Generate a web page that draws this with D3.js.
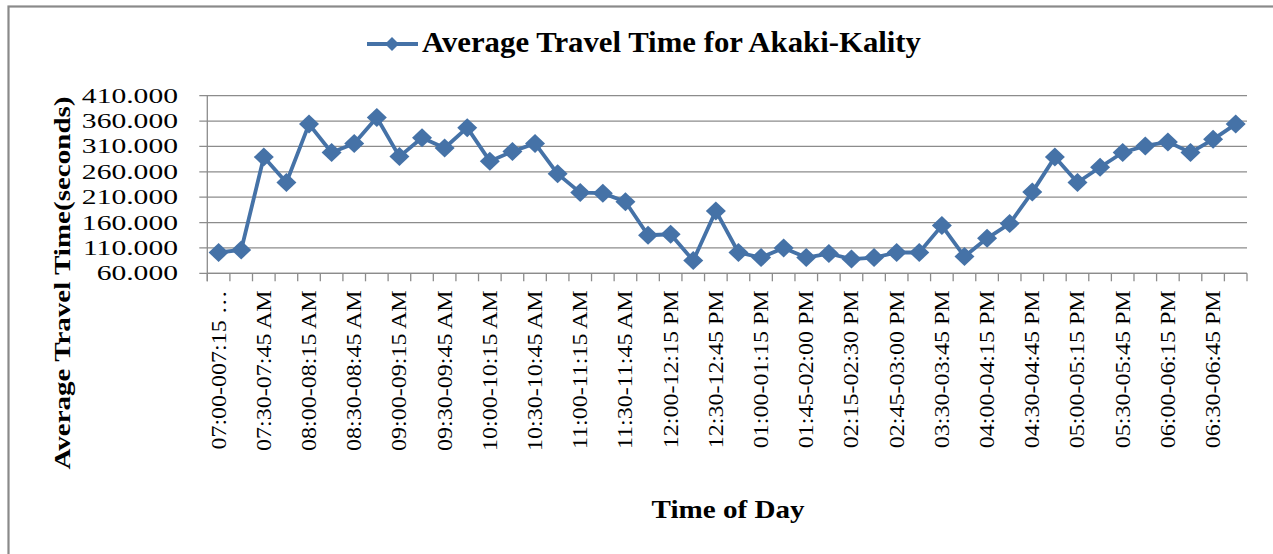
<!DOCTYPE html>
<html>
<head>
<meta charset="utf-8">
<script src="https://cdn.jsdelivr.net/npm/d3@7"></script>
<style>
  html, body { margin: 0; padding: 0; background: #fff; }
  svg { display: block; }
  text { font-family: "Liberation Serif", "Times New Roman", serif; fill: #000; }
</style>
</head>
<body>
<div id="chart"></div>
<script>
// 15-minute intervals (two are missing in the source data)
var categories = [
  '07:00-07:15', '07:15-07:30', '07:30-07:45', '07:45-08:00', '08:00-08:15', '08:15-08:30',
  '08:30-08:45', '08:45-09:00', '09:00-09:15', '09:15-09:30', '09:30-09:45', '09:45-10:00',
  '10:00-10:15', '10:15-10:30', '10:30-10:45', '10:45-11:00', '11:00-11:15', '11:15-11:30',
  '11:30-11:45', '11:45-12:00', '12:00-12:15', '12:15-12:30', '12:30-12:45', '12:45-01:00',
  '01:00-01:15', '01:15-01:30', '01:45-02:00', '02:00-02:15', '02:15-02:30', '02:30-02:45',
  '02:45-03:00', '03:00-03:15', '03:30-03:45', '03:45-04:00', '04:00-04:15', '04:15-04:30',
  '04:30-04:45', '04:45-05:00', '05:00-05:15', '05:15-05:30', '05:30-05:45', '05:45-06:00',
  '06:00-06:15', '06:15-06:30', '06:30-06:45', '06:45-07:00'
];
var travel_time = [
  101, 106, 289, 239, 354, 298, 316, 367, 290, 327, 307, 347,
  281, 300, 316, 256, 219, 218, 201, 135, 137, 85, 183, 101,
  91, 110, 91, 99, 88, 91, 101, 101, 154, 93, 129, 158,
  220, 289, 239, 269, 298, 311, 319, 298, 324, 354
];
// labels shown on every second category
var tick_labels = [
  '07:00-007:15 \u2026', '07:30-07:45 AM', '08:00-08:15 AM', '08:30-08:45 AM', '09:00-09:15 AM',
  '09:30-09:45 AM', '10:00-10:15 AM', '10:30-10:45 AM', '11:00-11:15 AM', '11:30-11:45 AM',
  '12:00-12:15 PM', '12:30-12:45 PM', '01:00-01:15 PM', '01:45-02:00 PM', '02:15-02:30 PM',
  '02:45-03:00 PM', '03:30-03:45 PM', '04:00-04:15 PM', '04:30-04:45 PM', '05:00-05:15 PM',
  '05:30-05:45 PM', '06:00-06:15 PM', '06:30-06:45 PM'
];
var y_ticks = [60, 110, 160, 210, 260, 310, 360, 410];

var W = 1273, H = 554;
var p_left = 207.3, p_right = 1247, p_top = 95.7, p_bottom = 273.3;
var blue = '#4572A7', grid = '#8c8c8c';

var svg = d3.select('#chart').append('svg').attr('width', W).attr('height', H);

// chart border
svg.append('rect').attr('x', 8.5).attr('y', 6.5).attr('width', 1300).attr('height', 600)
  .attr('fill', 'none').attr('stroke', '#8a8a8a').attr('stroke-width', 2.2);

var x = d3.scaleBand().domain(categories).range([p_left, p_right]).padding(0);
var y = d3.scaleLinear().domain([60, 410]).range([p_bottom, p_top]);

// gridlines + y ticks
svg.append('g').selectAll('line').data(y_ticks).enter().append('line')
  .attr('x1', p_left - 8).attr('x2', p_right)
  .attr('y1', d => y(d)).attr('y2', d => y(d))
  .attr('stroke', grid).attr('stroke-width', 1.3);

svg.append('g').selectAll('text').data(y_ticks).enter().append('text')
  .attr('transform', d => 'translate(178,' + y(d) + ') scale(1.48,1)')
  .attr('text-anchor', 'end').attr('dy', '0.35em')
  .style('font-size', '20px')
  .text(d => d3.format('.3f')(d));

// axis lines
svg.append('line').attr('x1', p_left).attr('x2', p_left).attr('y1', p_top).attr('y2', p_bottom + 8)
  .attr('stroke', grid).attr('stroke-width', 1.3);
svg.append('line').attr('x1', p_left).attr('x2', p_right).attr('y1', p_bottom).attr('y2', p_bottom)
  .attr('stroke', grid).attr('stroke-width', 1.3);

// x ticks at category boundaries
var edges = categories.map(d => x(d)).concat([x.range()[1]]);
svg.append('g').selectAll('line').data(edges).enter().append('line')
  .attr('x1', d => d).attr('x2', d => d).attr('y1', p_bottom).attr('y2', p_bottom + 8)
  .attr('stroke', grid).attr('stroke-width', 1.3);

// x labels (every second category)
svg.append('g').selectAll('text').data(tick_labels).enter().append('text')
  .attr('transform', (d, i) => 'translate(' + (x(categories[i * 2]) + x.bandwidth() / 2) + ',' + (p_bottom + 17) + ') rotate(-90) scale(1.2,1)')
  .attr('text-anchor', 'end').attr('dy', '0.35em')
  .style('font-size', '20px')
  .text(d => d);

// series line
var line = d3.line().x((d, i) => x(categories[i]) + x.bandwidth() / 2).y(d => y(d));
svg.append('path').datum(travel_time).attr('d', line)
  .attr('fill', 'none').attr('stroke', blue).attr('stroke-width', 3.8).attr('stroke-linejoin', 'round');

var diamond = (cx, cy, w, h) => 'M' + cx + ',' + (cy - h) + 'L' + (cx + w) + ',' + cy + 'L' + cx + ',' + (cy + h) + 'L' + (cx - w) + ',' + cy + 'Z';
svg.append('g').selectAll('path').data(travel_time).enter().append('path')
  .attr('d', (d, i) => diamond(x(categories[i]) + x.bandwidth() / 2, y(d), 10, 9.5))
  .attr('fill', blue);

// legend / title
svg.append('line').attr('x1', 367).attr('x2', 418).attr('y1', 44).attr('y2', 44)
  .attr('stroke', blue).attr('stroke-width', 3.8);
svg.append('path').attr('d', diamond(392, 44, 7, 7)).attr('fill', blue);
svg.append('text').attr('x', 422).attr('y', 52)
  .attr('textLength', 499).attr('lengthAdjust', 'spacingAndGlyphs')
  .style('font-size', '29px').style('font-weight', 'bold')
  .text('Average Travel Time for Akaki-Kality');

// axis titles
svg.append('text').attr('transform', 'translate(70,283) rotate(-90)')
  .attr('text-anchor', 'middle').attr('textLength', 373).attr('lengthAdjust', 'spacingAndGlyphs')
  .style('font-size', '23px').style('font-weight', 'bold')
  .text('Average Travel Time(seconds)');

svg.append('text').attr('x', 728).attr('y', 518)
  .attr('text-anchor', 'middle').attr('textLength', 153).attr('lengthAdjust', 'spacingAndGlyphs')
  .style('font-size', '25px').style('font-weight', 'bold')
  .text('Time of Day');
</script>
</body>
</html>
